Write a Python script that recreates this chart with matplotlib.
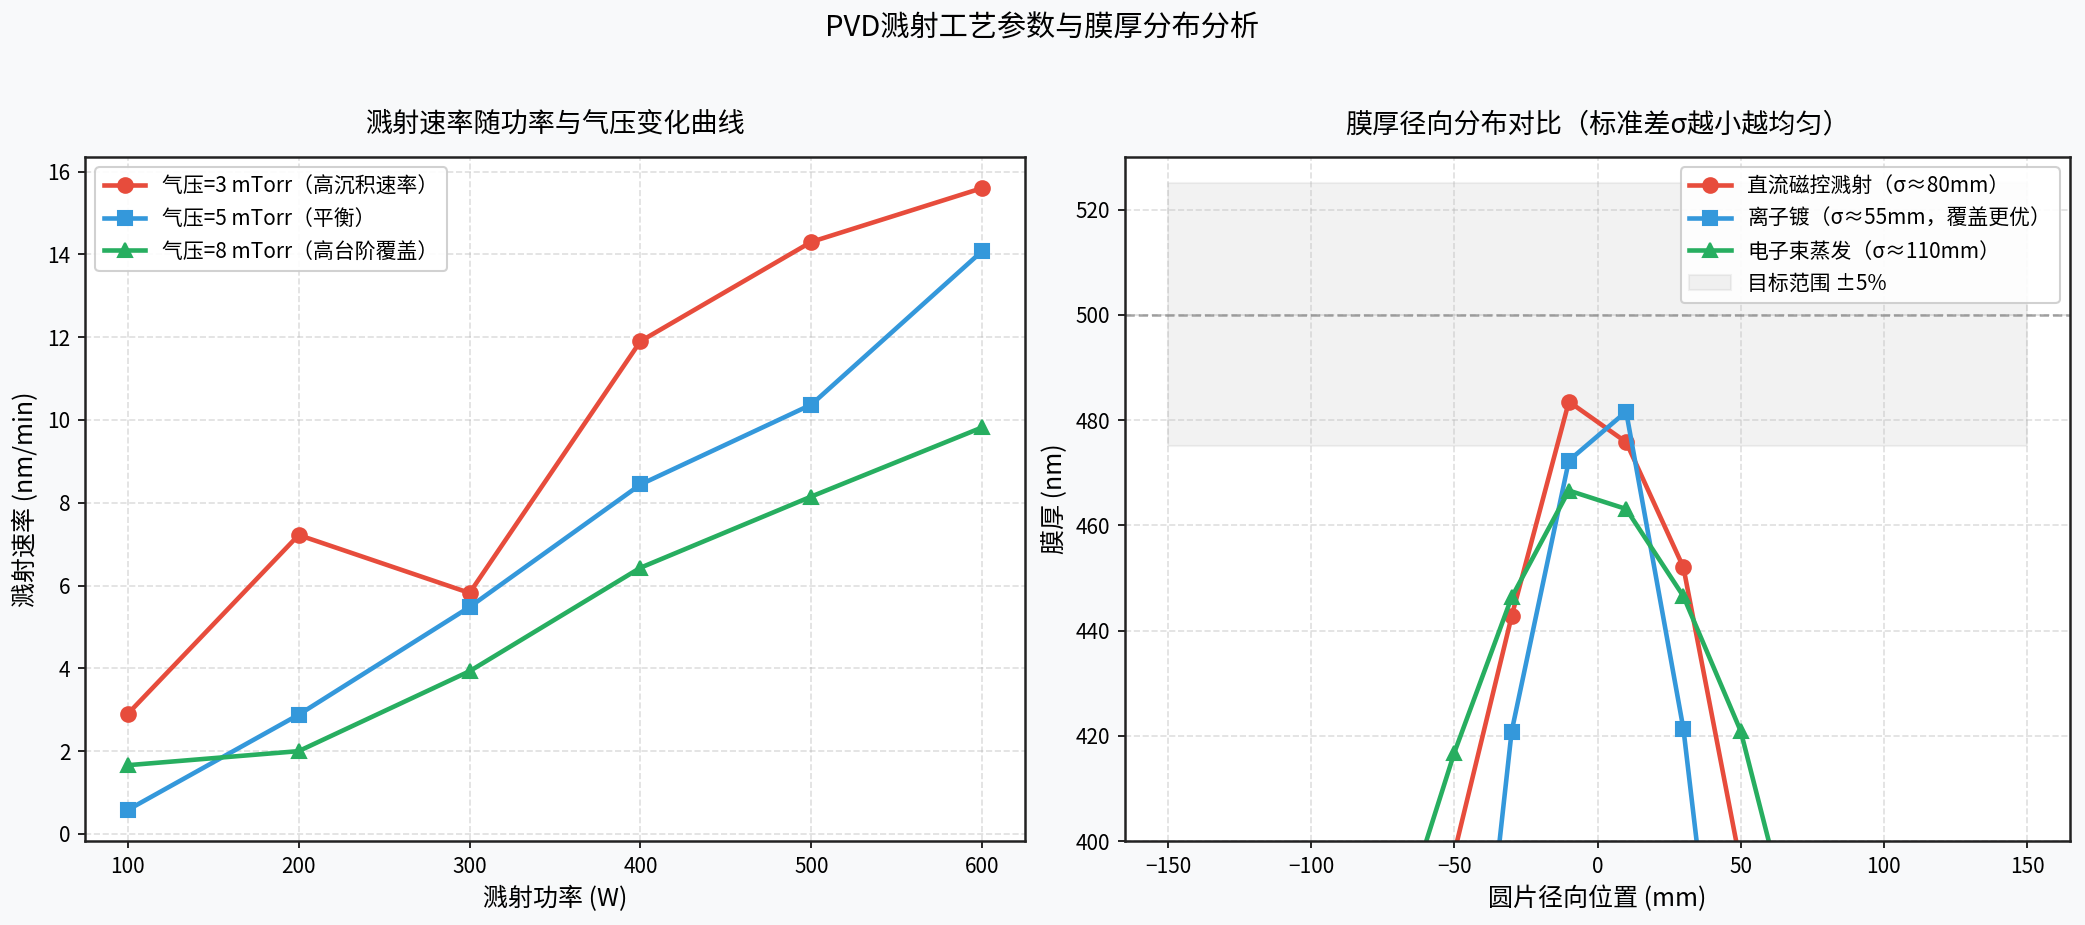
import numpy as np
import matplotlib
matplotlib.use("Agg")
import matplotlib.pyplot as plt

plt.rcParams['font.family'] = ['Noto Sans CJK SC', 'DejaVu Sans']

# 左图：溅射速率
power = [100, 200, 300, 400, 500, 600]
rate_3mtorr = [2.9, 7.22, 5.82, 11.9, 14.3, 15.6]
rate_5mtorr = [0.58, 2.88, 5.48, 8.44, 10.37, 14.08]
rate_8mtorr = [1.66, 2.0, 3.93, 6.43, 8.15, 9.82]

# 右图：膜厚径向分布
radius = [-150, -130, -110, -90, -70, -50, -30, -10, 10, 30, 50, 70, 90, 110, 130, 150]
thick_dc = [250, 285, 318, 350, 375, 397.8, 442.7, 483.5, 475.8, 452.0, 395.5, 372, 348, 320, 288, 252]
thick_ion = [120, 150, 185, 220, 262, 321.8, 420.8, 472.3, 481.6, 421.3, 328.7, 262, 220, 185, 150, 120]
thick_ebeam = [300, 318, 336, 355, 382.5, 416.8, 446.3, 466.6, 463.1, 446.5, 420.9, 378.2, 352, 334, 316, 298]
target = 500
tol = 0.05

red = '#e74c3c'
blue = '#3498db'
green = '#27ae60'

fig, (ax1, ax2) = plt.subplots(1, 2, figsize=(13.9, 6.1667), dpi=150)
fig.patch.set_facecolor('#f8f9fa')
ax1.set_position([0.0408, 0.0908, 0.4508, 0.7395])
ax2.set_position([0.5396, 0.0908, 0.4532, 0.7395])

ax1.plot(power, rate_3mtorr, marker='o', color=red, lw=2.2, ms=7, label='气压=3 mTorr（高沉积速率）')
ax1.plot(power, rate_5mtorr, marker='s', color=blue, lw=2.2, ms=7, label='气压=5 mTorr（平衡）')
ax1.plot(power, rate_8mtorr, marker='^', color=green, lw=2.2, ms=7, label='气压=8 mTorr（高台阶覆盖）')
ax1.set_title('溅射速率随功率与气压变化曲线', fontsize=13, pad=12)
ax1.set_xlabel('溅射功率 (W)', fontsize=12)
ax1.set_ylabel('溅射速率 (nm/min)', fontsize=12)
ax1.legend(loc='upper left', fontsize=10, framealpha=0.9)

ax2.plot(radius, thick_dc, marker='o', color=red, lw=2.2, ms=7, label='直流磁控溅射（σ≈80mm）')
ax2.plot(radius, thick_ion, marker='s', color=blue, lw=2.2, ms=7, label='离子镀（σ≈55mm，覆盖更优）')
ax2.plot(radius, thick_ebeam, marker='^', color=green, lw=2.2, ms=7, label='电子束蒸发（σ≈110mm）')
ax2.axhline(target, color='gray', ls='--', lw=1.2, alpha=0.7)
ax2.fill_between([radius[0], radius[-1]], target * (1 - tol), target * (1 + tol),
                 color='gray', alpha=0.1, label='目标范围 ±5%')
ax2.set_xlim(-165, 165)
ax2.set_ylim(400, 530)
ax2.set_title('膜厚径向分布对比（标准差σ越小越均匀）', fontsize=13, pad=12)
ax2.set_xlabel('圆片径向位置 (mm)', fontsize=12)
ax2.set_ylabel('膜厚 (nm)', fontsize=12)
ax2.legend(loc='upper right', fontsize=10, framealpha=0.9)

for ax in (ax1, ax2):
    ax.grid(True, ls='--', alpha=0.4)
    ax.tick_params(labelsize=10)
    for s in ax.spines.values():
        s.set_color('#222222')
        s.set_linewidth(1.2)

fig.suptitle('PVD溅射工艺参数与膜厚分布分析', fontsize=14, y=0.985)
fig.savefig('out.png', dpi=150, facecolor=fig.get_facecolor())
